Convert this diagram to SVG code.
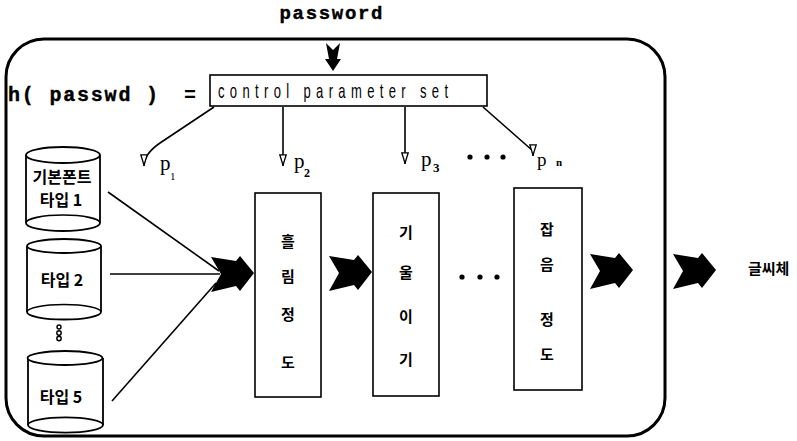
<svg xmlns="http://www.w3.org/2000/svg" width="797" height="441" viewBox="0 0 797 441">
  <style>
    .frame { fill: none; stroke: #000; stroke-width: 3; }
    .box { fill: #fff; stroke: #000; stroke-width: 1.6; }
    .cyl { fill: #fff; stroke: #000; stroke-width: 1.8; }
    .line { fill: none; stroke: #000; stroke-width: 1.6; }
    .mono { font-family: "Liberation Mono", "DejaVu Sans Mono", monospace; font-weight: bold; fill: #000; }
    .ko { font-family: "Noto Sans CJK KR", sans-serif; font-weight: bold; fill: #000; }
    .serif { font-family: "Liberation Serif", "DejaVu Serif", serif; fill: #000; }
    .narrow { font-family: "Liberation Sans", "DejaVu Sans", sans-serif; fill: #000; }
    .dot { fill: #000; }
    .bigarrow { fill: #000; }
  </style>
  <defs>
    <!-- small hollow arrowhead, always pointing down -->
    <marker id="openHead" viewBox="0 0 8 12" refX="4" refY="12" markerWidth="8" markerHeight="12" markerUnits="userSpaceOnUse" orient="0">
      <path d="M0.8,0.8 L7.2,0.8 L4,11.2 Z" fill="#fff" stroke="#000" stroke-width="1.3"/>
    </marker>
    <!-- fletched block arrow, tip at (43,16) -->
    <path id="blockArrow" d="M0,0 L25,4 L29,-1 L43,16 L29,34 L25,29 L0,35 L10,17 Z"/>
  </defs>

  <!-- outer frame -->
  <rect class="frame" x="6" y="39" width="659" height="397" rx="38" ry="38"/>

  <!-- password input -->
  <text class="mono" x="331" y="19" font-size="19" text-anchor="middle" textLength="103" stroke="#000" stroke-width="0.4">password</text>
  <path class="bigarrow" d="M326,43 L333,50 L340,43 L337,59 L341,59 L333,71 L325,59 L329,59 Z"/>

  <!-- hash definition -->
  <g id="hash">
    <text class="mono" x="8" y="101" font-size="20" textLength="150" stroke="#000" stroke-width="0.4">h( passwd )</text>
    <text class="mono" x="190" y="101" font-size="20" text-anchor="middle">=</text>
  </g>

  <g id="params">
    <rect class="box" x="210" y="75" width="277" height="31"/>
    <text class="narrow" transform="translate(218,98) scale(0.62,1)" font-size="21" textLength="371" lengthAdjust="spacing">control parameter set</text>
  </g>

  <!-- connectors -->
  <g id="connectors">
    <path class="line" d="M214,107 L160,143 Q144,154 144,166" marker-end="url(#openHead)"/>
    <path class="line" d="M283,107 L283,166" marker-end="url(#openHead)"/>
    <path class="line" d="M405,107 L405,164" marker-end="url(#openHead)"/>
    <path class="line" d="M483,107 L533,151 L533,156" marker-end="url(#openHead)"/>

    <line class="line" x1="108" y1="192" x2="219" y2="271"/>
    <line class="line" x1="110" y1="274" x2="220" y2="274"/>
    <line class="line" x1="112" y1="401" x2="216" y2="283"/>

    <use href="#blockArrow" class="bigarrow" x="211" y="257"/>
    <use href="#blockArrow" class="bigarrow" x="329" y="256"/>
    <use href="#blockArrow" class="bigarrow" x="590" y="254"/>
    <use href="#blockArrow" class="bigarrow" x="673" y="254"/>
  </g>

  <!-- parameter labels -->
  <g id="labels">
    <text class="serif" x="160" y="170" font-size="21">p</text>
    <text class="serif" x="170" y="180" font-size="11">1</text>
    <text class="serif" x="294" y="168" font-size="21">p</text>
    <text class="serif" x="304" y="177" font-size="12" font-weight="bold">2</text>
    <text class="serif" x="421" y="166" font-size="21">p</text>
    <text class="serif" x="433" y="172" font-size="13" font-weight="bold">3</text>
    <text class="serif" x="537" y="166" font-size="19">p</text>
    <text class="serif" x="556" y="166" font-size="11" font-weight="bold">n</text>
    <circle class="dot" cx="470" cy="157" r="2.6"/>
    <circle class="dot" cx="487" cy="157" r="2.6"/>
    <circle class="dot" cx="503" cy="157" r="2.6"/>
  </g>

  <!-- font sources -->
  <g id="font1">
    <path class="cyl" d="M26,155 L26,223 A37,8 0 0 0 100,223 L100,155"/>
    <ellipse class="cyl" cx="63" cy="155" rx="37" ry="8"/>
    <path class="line" d="M26,223 A37,8 0 0 1 100,223"/>
    <text class="ko" x="62" y="183" font-size="16" text-anchor="middle">기본폰트</text>
    <text class="ko" x="61" y="206" font-size="16" text-anchor="middle">타입 1</text>
  </g>
  <g id="font2">
    <path class="cyl" d="M27,246 L27,312 A37,7.5 0 0 0 101,312 L101,246"/>
    <ellipse class="cyl" cx="64" cy="246" rx="37" ry="7"/>
    <path class="line" d="M27,312 A37,7.5 0 0 1 101,312"/>
    <text class="ko" x="62" y="286" font-size="16" text-anchor="middle">타입 2</text>
  </g>
  <g id="vdots">
    <circle cx="59" cy="327" r="2" fill="none" stroke="#000" stroke-width="1.4"/>
    <circle cx="59" cy="333" r="2.2" fill="none" stroke="#000" stroke-width="1.4"/>
    <circle cx="59" cy="338.5" r="2.2" fill="none" stroke="#000" stroke-width="1.4"/>
  </g>
  <g id="font5">
    <path class="cyl" d="M28,358 L28,425 A37,7.5 0 0 0 103,425 L103,358"/>
    <ellipse class="cyl" cx="65" cy="358" rx="37.5" ry="7"/>
    <path class="line" d="M28,425 A37,7.5 0 0 1 103,425"/>
    <text class="ko" x="61" y="403" font-size="16" text-anchor="middle">타입 5</text>
  </g>

  <!-- transform stages -->
  <g id="cursive">
    <rect class="box" x="255" y="193" width="66" height="204"/>
    <g class="ko" font-size="15" text-anchor="middle">
      <text x="288" y="247">흘</text>
      <text x="288" y="282">림</text>
      <text x="288" y="320">정</text>
      <text x="288" y="368">도</text>
    </g>
  </g>
  <g id="slant">
    <rect class="box" x="373" y="193" width="66" height="203"/>
    <g class="ko" font-size="15" text-anchor="middle">
      <text x="406" y="238">기</text>
      <text x="406" y="278">울</text>
      <text x="406" y="322">이</text>
      <text x="406" y="365">기</text>
    </g>
  </g>
  <g id="midDots">
    <circle class="dot" cx="462" cy="277" r="2.6"/>
    <circle class="dot" cx="480" cy="277" r="2.6"/>
    <circle class="dot" cx="497" cy="277" r="2.6"/>
  </g>
  <g id="noise">
    <rect class="box" x="514" y="188" width="68" height="202"/>
    <g class="ko" font-size="15" text-anchor="middle">
      <text x="547" y="235">잡</text>
      <text x="547" y="270">음</text>
      <text x="547" y="325">정</text>
      <text x="547" y="360">도</text>
    </g>
  </g>

  <!-- output -->
  <g id="output">
    <text class="ko" x="748" y="274" font-size="15">글씨체</text>
  </g>
</svg>
